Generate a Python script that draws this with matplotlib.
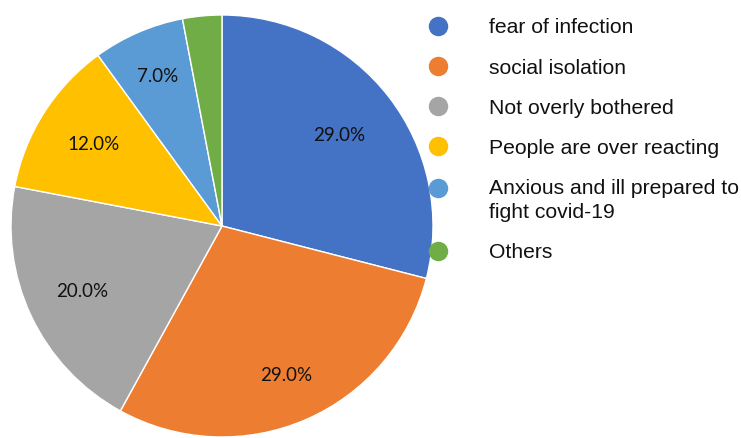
import numpy as np
import matplotlib.pyplot as plt
from matplotlib.lines import Line2D
from matplotlib.legend_handler import HandlerLine2D

labels = ["fear of infection", "social isolation", "Not overly bothered",
          "People are over reacting", "Anxious and ill prepared to\nfight covid-19", "Others"]
shares = [29.0, 29.0, 20.0, 12.0, 7.0, 3.0]
colors = ["#4472C4", "#ED7D31", "#A5A5A5", "#FFC000", "#5B9BD5", "#70AD47"]
# radial position of each percentage label (fraction of radius)
label_dist = [0.70, 0.77, 0.73, 0.72, 0.77, 0.75]

W, H = 741, 438
fig = plt.figure(figsize=(W / 100, H / 100), dpi=100)

# pie placed by pixel centre/radius
cx, cy, r = 222, 226, 211
ax = fig.add_axes([(cx - r) / W, (H - cy - r) / H, 2 * r / W, 2 * r / H])

def pct(v):
    return f"{v:.1f}%" if v >= 5 else ""

wedges, _, autotexts = ax.pie(
    shares, colors=colors, startangle=90, counterclock=False,
    autopct=pct, pctdistance=0.72,
    wedgeprops=dict(edgecolor="white", linewidth=1),
    textprops=dict(fontsize=13.5, family="Lato", color="#111111"),
)
for w, t, d in zip(wedges, autotexts, label_dist):
    a = np.deg2rad((w.theta1 + w.theta2) / 2)
    t.set_position((d * np.cos(a), d * np.sin(a)))
ax.set_aspect("equal")
ax.set_xlim(-1, 1)
ax.set_ylim(-1, 1)


class FirstLineHandler(HandlerLine2D):
    # put the marker next to the first line of a two-line label
    def __init__(self, shift, **kw):
        super().__init__(**kw)
        self.shift = shift

    def create_artists(self, *args, **kw):
        arts = super().create_artists(*args, **kw)
        for a in arts:
            a.set_ydata(np.asarray(a.get_ydata()) + self.shift)
        return arts


handles = [Line2D([], [], marker="o", linestyle="", markersize=13,
                  markerfacecolor=c, markeredgecolor=c) for c in colors]
leg = fig.legend(
    handles, labels, loc="upper left", bbox_to_anchor=(417 / W, 1 - 10 / H),
    frameon=False, prop=dict(family="Liberation Sans", size=15.2),
    handlelength=1.2, handletextpad=1.8, labelspacing=1.0, borderaxespad=0,
    handler_map={handles[4]: FirstLineHandler(9.5)},
)
for t in leg.get_texts():
    t.set_color("#111111")
    t.set_linespacing(1.36)

fig.savefig("out.png", dpi=100)
